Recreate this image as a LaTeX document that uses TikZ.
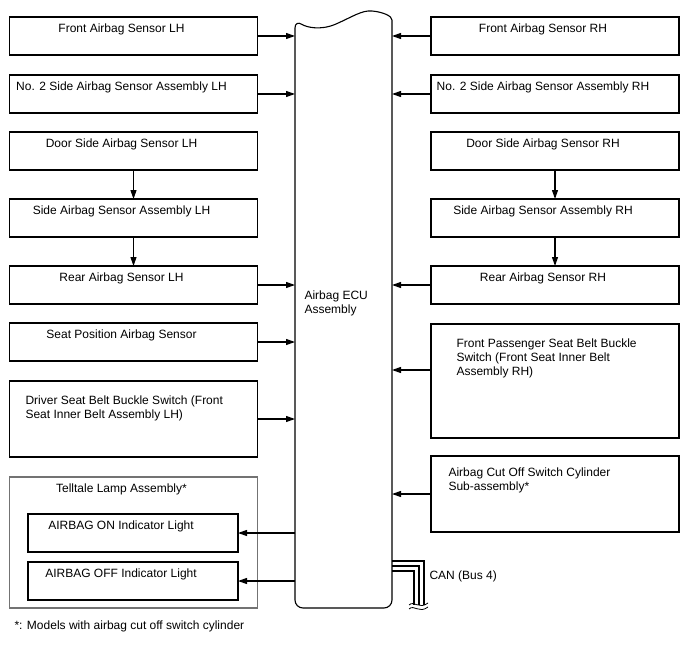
\documentclass[tikz,border=0pt]{standalone}
\usepackage{fontspec}
\setmainfont{Liberation Sans}
\usetikzlibrary{arrows.meta,positioning}

\begin{document}
\begin{tikzpicture}[x=1pt,y=-1pt,font=\fontsize{12}{14}\selectfont,line width=1.1pt,
  unit/.style={draw,anchor=north west,inner sep=0pt,outer sep=0pt,minimum width=248,minimum height=38},
  lbl/.style={label={[anchor=north,inner sep=0pt,xshift=-12pt,yshift=-6pt]north:#1}},
  txt/.style={anchor=north west,align=left,inner sep=0pt},
  sig/.style={-{Triangle[length=9pt,width=6pt]}},
  bus/.style={line width=2.2pt}]
\useasboundingbox (0,0) rectangle (688,658);
% ECU body
\node[inner sep=0pt,outer sep=0pt,anchor=north west,minimum width=97,minimum height=588] (ecu) at (295,20) {};
\draw (ecu.north west) .. controls (306,27) and (320,31) .. (336,24)
  .. controls (352,17) and (362,10) .. (372,11) .. controls (383,12) and (392,16) .. (ecu.north east)
  [rounded corners=8pt] -- (ecu.south east) -- (ecu.south west) -- cycle;
\node[txt] (ecutxt) at (304,290) {Airbag ECU\\Assembly};
% left side
\node[unit,lbl=Front Airbag Sensor LH] (fsl) at (9.5,17) {};
\node[unit,lbl=No. 2 Side Airbag Sensor Assembly LH] (nsl) at (9.5,75) {};
\node[unit,lbl=Door Side Airbag Sensor LH] (dsl) at (9.5,132) {};
\node[unit,lbl=Side Airbag Sensor Assembly LH] (ssl) at (9.5,199) {};
\node[unit,lbl=Rear Airbag Sensor LH] (rsl) at (9.5,266) {};
\node[unit,lbl=Seat Position Airbag Sensor] (spa) at (9.5,323) {};
\node[unit,minimum height=76,
  label={[txt,xshift=15.5pt,yshift=-14pt]north west:Driver Seat Belt Buckle Switch (Front\\Seat Inner Belt Assembly LH)}] (dsb) at (9.5,381) {};
\node[unit,draw=black!55,minimum height=131,lbl=Telltale Lamp Assembly*] (tla) at (9.5,477) {};
\node[unit,minimum width=210,lbl=AIRBAG ON Indicator Light] (aon) at (28,514) {};
\node[unit,minimum width=210,lbl=AIRBAG OFF Indicator Light] (aoff) at (28,562) {};
% right side
\node[unit,lbl=Front Airbag Sensor RH] (fsr) at (431,17) {};
\node[unit,lbl=No. 2 Side Airbag Sensor Assembly RH] (nsr) at (431,75) {};
\node[unit,lbl=Door Side Airbag Sensor RH] (dsr) at (431,132) {};
\node[unit,lbl=Side Airbag Sensor Assembly RH] (ssr) at (431,199) {};
\node[unit,lbl=Rear Airbag Sensor RH] (rsr) at (431,266) {};
\node[unit,minimum height=114,
  label={[txt,xshift=25pt,yshift=-14pt]north west:Front Passenger Seat Belt Buckle\\Switch (Front Seat Inner Belt\\Assembly RH)}] (fps) at (431,324) {};
\node[unit,minimum height=76,
  label={[txt,xshift=17pt,yshift=-11pt]north west:Airbag Cut Off Switch Cylinder\\Sub-assembly*}] (aco) at (431,456) {};
% signals
\foreach \n in {fsl,nsl,rsl,spa,dsb} \draw[sig] (\n.east) -- (\n.east -| ecu.west);
\foreach \n in {fsr,nsr,rsr,aco} \draw[sig] (\n.west) -- (\n.west -| ecu.east);
\draw[sig] ([yshift=11pt]fps.west) -- ([yshift=11pt]fps.west -| ecu.east);
\foreach \n in {aon,aoff} \draw[sig] (ecu.west |- \n.east) -- (\n.east);
\draw[sig] (dsl) -- (ssl);
\draw[sig] (ssl) -- (rsl);
\draw[sig] (dsr) -- (ssr);
\draw[sig] (ssr) -- (rsr);
% CAN bus
\foreach \y/\x [count=\i] in {561/424,566/419,571/414} {
  \coordinate (can\i) at (\x,605);
  \draw[bus] (ecu.east |- 0,\y) -| (can\i);
}
\draw[line width=0.8pt] (409,605) .. controls (414,600) and (419,610) .. (428,603);
\draw[line width=0.8pt] (409,609) .. controls (414,604) and (419,614) .. (428,607);
\node[anchor=base west,inner sep=0pt] (cantxt) at (429,579) {CAN (Bus 4)};
\node[anchor=base west,inner sep=0pt] (note) at (14,629) {*: Models with airbag cut off switch cylinder};
\end{tikzpicture}
\end{document}
